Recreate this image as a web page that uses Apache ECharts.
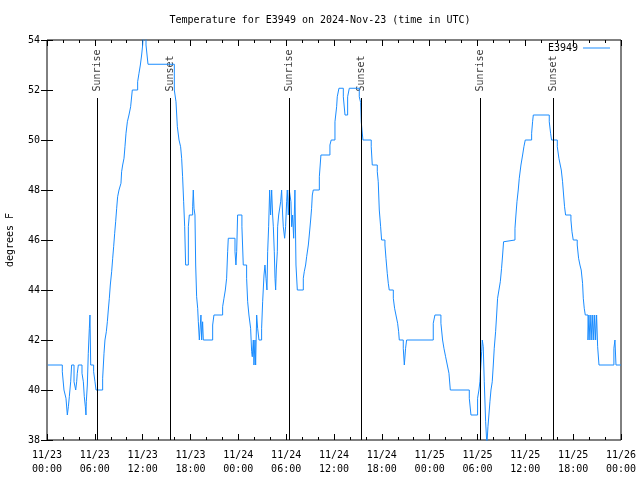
<!DOCTYPE html>
<html>
<head>
<meta charset="utf-8">
<script src="https://cdn.jsdelivr.net/npm/echarts@6/dist/echarts.min.js"></script>
<style>html,body{margin:0;padding:0;background:#fff}#c{width:640px;height:480px}</style>
</head>
<body>
<div id="c"></div>
<script>
// Hours since 2024-11-23 00:00 UTC, temperature (deg F) at each change
const day1 = [[0.1,41.0],[1.92,40.73],[2.13,40.0],[2.38,39.67],[2.55,39.0],[2.68,39.33],[2.80,39.73],[2.97,40.33],[3.09,41.0],[3.39,40.33],[3.60,40.0],[3.72,40.33],[3.80,40.67],[3.93,41.0],[4.39,40.67],[4.56,40.33],[4.68,39.73],[4.81,39.33],[4.89,39.0],[4.93,39.53],[5.06,40.2],[5.18,41.47],[5.31,42.47],[5.39,43.0],[5.48,41.0],[5.85,40.73],[6.02,40.33],[6.15,40.0],[6.98,40.47],[7.15,41.47],[7.27,42.0],[7.44,42.33],[7.57,42.73],[7.69,43.2],[7.82,43.67],[7.94,44.2],[8.11,44.73],[8.24,45.27],[8.36,45.73],[8.49,46.27],[8.61,46.73],[8.74,47.27],[8.86,47.73],[9.03,48.0],[9.28,48.27],[9.36,48.73],[9.49,49.0],[9.66,49.27],[9.78,49.73],[9.91,50.27],[10.08,50.73],[10.28,51.0],[10.49,51.33],[10.70,52.0],[11.37,52.33],[11.54,52.67],[11.71,53.0],[11.87,53.4],[12.00,53.8],[12.08,54.3],[12.42,53.8],[12.67,53.03],[15.97,52.0],[16.18,51.53],[16.35,50.53],[16.56,50.0],[16.76,49.73],[16.89,49.27],[17.01,48.53],[17.14,47.53],[17.27,46.53],[17.39,45.0],[17.73,46.53],[17.85,47.0],[18.27,47.33],[18.35,48.0],[18.44,47.27],[18.56,47.0],[18.65,45.0],[18.77,43.73],[18.90,43.27],[18.98,42.73],[19.11,42.0],[19.31,43.0],[19.40,42.0],[19.52,42.73],[19.61,42.0],[20.78,42.6],[20.94,43.0],[22.03,43.33],[22.20,43.67],[22.37,44.0],[22.53,44.47],[22.66,45.53],[22.74,46.07],[23.58,45.53],[23.70,45.0],[23.79,45.53],[23.91,47.0]];
const day2 = [[24.45,46.53],[24.62,45.0],[25.04,44.47],[25.17,43.53],[25.33,43.0],[25.54,42.47],[25.67,41.53],[25.75,41.33],[25.88,42.0],[25.96,41.0],[26.09,42.0],[26.17,41.0],[26.30,43.0],[26.42,42.47],[26.59,42.0],[26.92,42.47],[27.05,43.53],[27.22,44.6],[27.34,45.0],[27.47,44.47],[27.59,44.0],[27.68,45.53],[27.80,46.53],[27.93,48.0],[28.05,47.0],[28.18,48.0],[28.30,47.0],[28.39,46.53],[28.51,45.53],[28.60,44.47],[28.68,44.0],[28.76,44.8],[28.89,45.53],[28.93,46.53],[29.06,47.0],[29.31,47.53],[29.43,48.0],[29.56,47.0],[29.64,46.53],[29.81,46.07],[29.93,46.53],[30.06,47.53],[30.14,48.0],[30.27,47.0],[30.39,48.0],[30.60,47.53],[30.69,46.53],[30.81,47.0],[30.94,46.07],[31.02,47.0],[31.10,48.0],[31.23,45.0],[31.40,44.0],[32.15,44.47],[32.27,44.73],[32.44,45.0],[32.57,45.33],[32.78,45.8],[32.90,46.2],[33.07,46.8],[33.19,47.27],[33.28,47.8],[33.40,48.0],[34.16,48.53],[34.36,49.4],[35.49,49.8],[35.65,50.0],[36.12,50.73],[36.33,51.33],[36.41,51.73],[36.62,52.07],[37.17,51.73],[37.38,51.0],[37.71,51.73],[37.92,52.07],[39.17,51.73],[39.34,51.5],[39.42,50.73],[39.51,50.4],[39.63,50.0],[40.67,49.73],[40.80,49.0],[41.43,48.73],[41.55,48.33],[41.68,47.2],[41.85,46.53],[41.97,46.0],[42.39,45.8],[42.52,45.27],[42.68,44.67],[42.81,44.27],[42.93,44.0],[43.44,43.67],[43.60,43.27],[43.77,43.0],[43.98,42.67],[44.11,42.33],[44.19,42.0],[44.69,41.67],[44.82,41.0],[44.98,41.67],[45.11,42.0]];
const day3 = [[48.45,42.67],[48.66,43.0],[49.41,42.67],[49.62,42.0],[49.79,41.67],[50.00,41.33],[50.21,41.0],[50.42,40.67],[50.59,40.0],[52.97,39.67],[53.18,39.0],[54.01,39.67],[54.18,40.0],[54.30,40.33],[54.52,41.53],[54.60,42.0],[54.72,41.73],[54.85,40.33],[55.02,38.73],[55.18,37.8],[55.31,38.53],[55.43,39.0],[55.56,39.53],[55.69,40.0],[55.85,40.33],[55.98,41.0],[56.10,41.67],[56.27,42.33],[56.40,43.0],[56.52,43.67],[56.69,44.0],[56.86,44.33],[57.02,44.87],[57.15,45.4],[57.27,45.93],[57.44,46.0],[58.70,46.47],[58.82,47.0],[58.95,47.53],[59.11,48.0],[59.24,48.47],[59.45,49.0],[59.66,49.4],[59.82,49.73],[59.99,50.0],[60.79,50.27],[60.91,50.73],[61.00,51.0],[63.00,50.73],[63.17,50.27],[63.29,50.0],[64.01,49.73],[64.21,49.27],[64.38,49.0],[64.51,48.8],[64.67,48.33],[64.80,47.8],[64.92,47.33],[65.05,47.0],[65.72,46.8],[65.85,46.33],[66.01,46.0],[66.51,45.8],[66.68,45.27],[66.85,45.0],[67.01,44.8],[67.18,44.27],[67.27,43.67],[67.39,43.27],[67.52,43.0],[67.86,42.0],[67.98,43.0],[68.10,42.0],[68.22,43.0],[68.34,42.0],[68.46,43.0],[68.58,42.0],[68.70,43.0],[68.82,42.0],[68.94,43.0],[69.07,41.73],[69.24,41.0],[71.11,41.67],[71.24,42.0],[71.37,41.0],[72.0,41.0]];

const sunriseHours = [6.31, 30.38, 54.36];
const sunsetHours = [15.47, 39.45, 63.5];
const yTicks = [38, 40, 42, 44, 46, 48, 50, 52, 54];

const FONT = 'DejaVu Sans Mono';
const LINE_TOP = 51.68;

const temps = day1.concat(day2, day3);
const sunEvents = sunriseHours.map(h => ({ name: 'Sunrise', value: [h, LINE_TOP] }))
  .concat(sunsetHours.map(h => ({ name: 'Sunset', value: [h, LINE_TOP] })));

function xLabel(v) {
  const d = 23 + Math.floor(v / 24);
  const hh = v % 24;
  return '11/' + d + '\n' + String(hh).padStart(2, '0') + ':00';
}

const tickStyle = { lineStyle: { color: '#000', width: 1 } };

const chart = echarts.init(document.getElementById('c'), null, { renderer: 'canvas' });
chart.setOption({
  animation: false,
  backgroundColor: '#fff',
  textStyle: { fontFamily: FONT, fontSize: 10, color: '#000' },
  title: {
    text: 'Temperature for E3949 on 2024-Nov-23 (time in UTC)',
    left: 'center', top: 10,
    textStyle: { fontFamily: FONT, fontSize: 10, fontWeight: 'normal', color: '#000' }
  },
  legend: {
    data: [{ name: 'E3949', icon: 'rect' }], right: 30, top: 43, align: 'right', padding: 0,
    itemWidth: 27, itemHeight: 1, itemGap: 4,
    textStyle: { fontFamily: FONT, fontSize: 10, color: '#000', padding: [0, 0, 0, 0] }
  },
  grid: { left: 47, right: 19, top: 40, bottom: 40, show: true, borderColor: '#000', borderWidth: 1, containLabel: false, outerBoundsMode: 'none' },
  xAxis: [
    {
      type: 'value', min: 0, max: 72, interval: 6, position: 'bottom',
      axisLine: { show: false },
      axisTick: Object.assign({ inside: true, length: 6 }, tickStyle),
      minorTick: { show: true, splitNumber: 3, length: 3, lineStyle: { color: '#000' } },
      splitLine: { show: false },
      axisLabel: { formatter: xLabel, margin: 8, lineHeight: 14, fontFamily: FONT, fontSize: 10, color: '#000' }
    },
    {
      type: 'value', min: 0, max: 72, interval: 6, position: 'top',
      axisLine: { show: false },
      axisTick: Object.assign({ inside: true, length: 6 }, tickStyle),
      minorTick: { show: true, splitNumber: 3, length: 3, lineStyle: { color: '#000' } },
      splitLine: { show: false },
      axisLabel: { show: false }
    }
  ],
  yAxis: [
    {
      type: 'value', min: yTicks[0], max: yTicks[yTicks.length - 1], interval: 2, position: 'left',
      name: 'degrees F', nameLocation: 'middle', nameGap: 32, nameRotate: 90,
      nameTextStyle: { fontFamily: FONT, fontSize: 10, color: '#000' },
      axisLine: { show: false },
      axisTick: Object.assign({ inside: true, length: 6 }, tickStyle),
      splitLine: { show: false },
      axisLabel: { margin: 7, fontFamily: FONT, fontSize: 10, color: '#000' }
    },
    {
      type: 'value', min: yTicks[0], max: yTicks[yTicks.length - 1], interval: 2, position: 'right',
      axisLine: { show: false },
      axisTick: Object.assign({ inside: true, length: 6 }, tickStyle),
      splitLine: { show: false },
      axisLabel: { show: false }
    }
  ],
  series: [
    {
      name: 'E3949', type: 'line', data: temps, step: 'end',
      symbol: 'none', showSymbol: false, clip: true,
      lineStyle: { color: '#1a8cff', width: 1 },
      itemStyle: { color: '#1a8cff' },
      z: 3
    },
    {
      name: 'sun', type: 'scatter', data: sunEvents,
      symbolSize: 1, itemStyle: { color: 'rgba(0,0,0,0)' }, silent: true, z: 2,
      label: {
        show: true, formatter: '{b}', position: 'top', distance: 6,
        rotate: 90, align: 'left', verticalAlign: 'middle',
        fontFamily: FONT, fontSize: 10, color: '#000'
      },
      labelLayout: { hideOverlap: false },
      markLine: {
        silent: true, symbol: 'none', animation: false,
        lineStyle: { color: '#000', width: 1, type: 'solid' },
        label: { show: false },
        data: sunEvents.map(e => [{ coord: [e.value[0], yTicks[0]] }, { coord: [e.value[0], LINE_TOP] }])
      }
    }
  ]
});
</script>
</body>
</html>
